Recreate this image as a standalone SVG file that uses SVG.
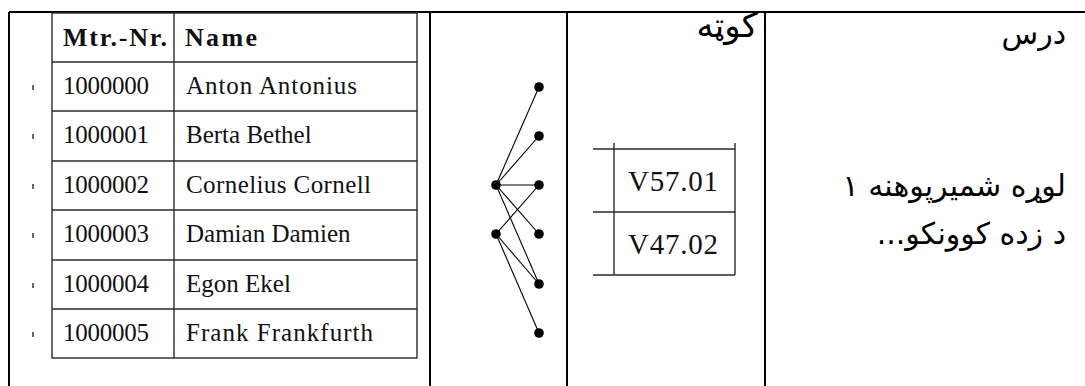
<svg xmlns="http://www.w3.org/2000/svg" width="1085" height="386" viewBox="0 0 1085 386">
<style>
.frame{stroke:#000;stroke-width:2;fill:none}
.grid{stroke:#2a2a2a;stroke-width:1.4;fill:none}
.cm{font-family:"Liberation Serif",serif;font-size:25px;fill:#111}
.hd{font-family:"Liberation Serif",serif;font-size:26px;font-weight:bold;fill:#111}
.vl{font-family:"Liberation Serif",serif;font-size:29px;fill:#111}
.ar{font-family:"DejaVu Sans",sans-serif;font-size:30px;fill:#000}
.tick{stroke:#000;stroke-width:1.2}
.edge{stroke:#000;stroke-width:1.1}
.dot{fill:#000}
</style>
<rect width="1085" height="386" fill="#fff"/>
<g id="frame">
<line class="frame" x1="9" y1="12" x2="1085" y2="12"/>
<line class="frame" x1="9" y1="12" x2="9" y2="386"/>
<line class="frame" x1="430" y1="12" x2="430" y2="386"/>
<line class="frame" x1="567" y1="12" x2="567" y2="386"/>
<line class="frame" x1="765" y1="12" x2="765" y2="386"/>
</g>
<g id="students-table">
<rect class="grid" x="52" y="13" width="365" height="345"/>
<line class="grid" x1="174" y1="13" x2="174" y2="358"/>
<line class="grid" x1="52" y1="62" x2="417" y2="62"/>
<line class="grid" x1="52" y1="111" x2="417" y2="111"/>
<line class="grid" x1="52" y1="161" x2="417" y2="161"/>
<line class="grid" x1="52" y1="210" x2="417" y2="210"/>
<line class="grid" x1="52" y1="260" x2="417" y2="260"/>
<line class="grid" x1="52" y1="309" x2="417" y2="309"/>
<text class="hd" x="63" y="46" textLength="104">Mtr.-Nr.</text>
<text class="hd" x="185" y="46" textLength="72">Name</text>
<text class="cm" x="63" y="94" textLength="86">1000000</text>
<text class="cm" x="186" y="94" textLength="171">Anton Antonius</text>
<text class="cm" x="63" y="143" textLength="86">1000001</text>
<text class="cm" x="186" y="143">Berta Bethel</text>
<text class="cm" x="63" y="193" textLength="86">1000002</text>
<text class="cm" x="186" y="193" textLength="185">Cornelius Cornell</text>
<text class="cm" x="63" y="242" textLength="86">1000003</text>
<text class="cm" x="186" y="242">Damian Damien</text>
<text class="cm" x="63" y="292" textLength="86">1000004</text>
<text class="cm" x="186" y="292">Egon Ekel</text>
<text class="cm" x="63" y="341" textLength="86">1000005</text>
<text class="cm" x="186" y="341" textLength="187">Frank Frankfurth</text>
<line class="tick" x1="33" y1="85" x2="33" y2="90"/>
<line class="tick" x1="33" y1="134" x2="33" y2="139"/>
<line class="tick" x1="33" y1="184" x2="33" y2="189"/>
<line class="tick" x1="33" y1="233" x2="33" y2="238"/>
<line class="tick" x1="33" y1="283" x2="33" y2="288"/>
<line class="tick" x1="33" y1="332" x2="33" y2="337"/>
</g>
<g id="connectors">
<line class="edge" x1="496" y1="185" x2="539" y2="87"/>
<line class="edge" x1="496" y1="185" x2="539" y2="136"/>
<line class="edge" x1="496" y1="185" x2="539" y2="185"/>
<line class="edge" x1="496" y1="185" x2="539" y2="234"/>
<line class="edge" x1="496" y1="185" x2="539" y2="284"/>
<line class="edge" x1="496" y1="234" x2="539" y2="185"/>
<line class="edge" x1="496" y1="234" x2="539" y2="284"/>
<line class="edge" x1="496" y1="234" x2="539" y2="333"/>
</g>
<g id="dots">
<circle class="dot" cx="496" cy="185" r="4.8"/>
<circle class="dot" cx="496" cy="234" r="4.8"/>
<circle class="dot" cx="539" cy="87" r="4.8"/>
<circle class="dot" cx="539" cy="136" r="4.8"/>
<circle class="dot" cx="539" cy="185" r="4.8"/>
<circle class="dot" cx="539" cy="234" r="4.8"/>
<circle class="dot" cx="539" cy="284" r="4.8"/>
<circle class="dot" cx="539" cy="333" r="4.8"/>
</g>
<g id="rooms-table">
<line class="grid" x1="593" y1="149" x2="735" y2="149"/>
<line class="grid" x1="593" y1="212" x2="735" y2="212"/>
<line class="grid" x1="593" y1="275" x2="735" y2="275"/>
<line class="grid" x1="614" y1="143" x2="614" y2="275"/>
<line class="grid" x1="735" y1="143" x2="735" y2="275"/>
<text class="vl" x="628" y="191" textLength="90">V57.01</text>
<text class="vl" x="628" y="254" textLength="90">V47.02</text>
</g>
<g id="labels">
<text class="ar" x="758" y="37" text-anchor="start" direction="rtl" style="font-size:34px">کوټه</text>
<text class="ar" x="1066" y="44" text-anchor="start" direction="rtl">درس</text>
<text class="ar" x="1066" y="196" text-anchor="start" direction="rtl">لوړه شمیرپوهنه ۱</text>
<text class="ar" x="1066" y="244" text-anchor="start" direction="rtl">د زده کوونکو...</text>
</g>
</svg>
